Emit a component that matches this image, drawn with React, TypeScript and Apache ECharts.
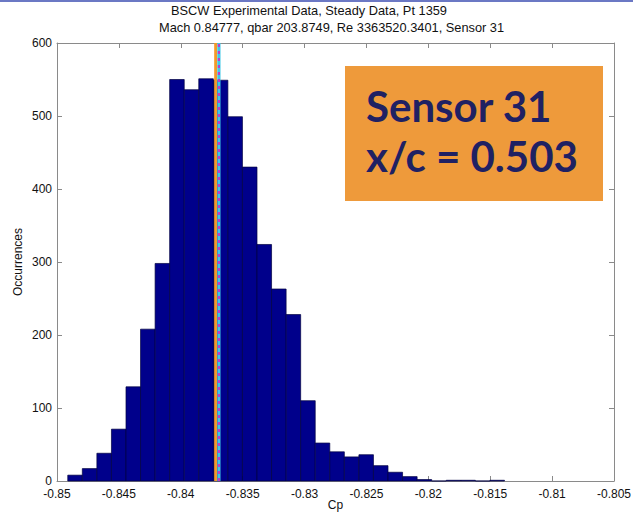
import React, { useEffect, useRef } from "react";
import * as echarts from "echarts";

const titleLines = [
  "BSCW Experimental Data, Steady Data, Pt 1359",
  "Mach 0.84777, qbar 203.8749, Re 3363520.3401, Sensor 31",
];
const xTicks = [-0.85, -0.845, -0.84, -0.835, -0.83, -0.825, -0.82, -0.815, -0.81, -0.805];
const yTicks = [0, 100, 200, 300, 400, 500, 600];
const binStart = -0.84913;
const binWidth = 0.001176;
const counts = [
  8, 17, 38, 71, 129, 208, 298, 550, 536, 551,
  549, 499, 430, 324, 263, 228, 110, 52, 40, 33,
  36, 21, 12, 6, 2, 0, 1, 1, 0, 1,
];
const meanLineX = -0.83718;
const sensorLineX = -0.83692;
const boxLines = ["Sensor 31", "x/c = 0.503"];

const fmt = (v: number) => String(parseFloat(Number(v).toFixed(3)));

export default function App() {
  const ref = useRef<HTMLDivElement>(null);
  useEffect(() => {
    if (!ref.current) return;
    const chart = echarts.init(ref.current, undefined, { renderer: "svg" });
    const axisColor = "#8a8a8a";
    const labelFont = { fontFamily: "Liberation Sans", fontSize: 12, color: "#111" };
    const xMin = xTicks[0];
    const xMax = xTicks[xTicks.length - 1];
    const yMin = yTicks[0];
    const yMax = yTicks[yTicks.length - 1];
    const baseX = {
      type: "value",
      min: xMin,
      max: xMax,
      interval: 0.005,
      splitLine: { show: false },
      axisLine: { onZero: false, lineStyle: { color: axisColor } },
      axisTick: { inside: true, length: 5, lineStyle: { color: axisColor } },
    };
    const baseY = {
      type: "value",
      min: yMin,
      max: yMax,
      interval: 100,
      splitLine: { show: false },
      axisLine: { show: true, onZero: false, lineStyle: { color: axisColor } },
      axisTick: { show: true, inside: true, length: 5, lineStyle: { color: axisColor } },
    };
    const data = counts.map((c, i) => [binStart + i * binWidth, binStart + (i + 1) * binWidth, c]);
    chart.setOption({
      animation: false,
      backgroundColor: "#ffffff",
      grid: { left: 57, right: 19, top: 43, bottom: 34, containLabel: false, outerBoundsMode: "none" },
      xAxis: [
        {
          ...baseX,
          position: "bottom",
          name: "Cp",
          nameLocation: "middle",
          nameGap: 18,
          nameMoveOverlap: false,
          nameTextStyle: { ...labelFont },
          axisLabel: { ...labelFont, margin: 7, formatter: (v: number) => fmt(v), showMinLabel: true, showMaxLabel: true },
        },
        { ...baseX, position: "top", axisLabel: { show: false } },
      ],
      yAxis: [
        {
          ...baseY,
          position: "left",
          name: "Occurrences",
          nameLocation: "middle",
          nameGap: 33,
          nameMoveOverlap: false,
          nameTextStyle: { ...labelFont },
          axisLabel: { ...labelFont, margin: 5 },
        },
        { ...baseY, position: "right", axisLabel: { show: false } },
      ],
      series: [
        {
          type: "custom",
          xAxisIndex: 0,
          yAxisIndex: 0,
          encode: { x: [0, 1], y: 2 },
          data,
          renderItem: (params: any, api: any) => {
            const p0 = api.coord([api.value(0), api.value(2)]);
            const p1 = api.coord([api.value(1), 0]);
            return {
              type: "rect",
              shape: { x: p0[0], y: p0[1], width: p1[0] - p0[0], height: p1[1] - p0[1] },
              style: { fill: "#00008b", stroke: "#000040", lineWidth: 0.7 },
            };
          },
        },
        {
          type: "line",
          xAxisIndex: 0,
          yAxisIndex: 0,
          data: [[meanLineX, yMin], [meanLineX, yMax]],
          symbol: "none",
          lineStyle: { color: "#f39a2a", width: 3 },
          clip: false,
        },
        {
          type: "line",
          xAxisIndex: 0,
          yAxisIndex: 0,
          data: [[sensorLineX, yMin], [sensorLineX, yMax]],
          symbol: "none",
          lineStyle: { color: "#3cc8e6", width: 3.2 },
          clip: false,
        },
        {
          type: "line",
          xAxisIndex: 0,
          yAxisIndex: 0,
          data: [[sensorLineX, yMin], [sensorLineX, yMax]],
          symbol: "none",
          lineStyle: { color: "#c03cc8", width: 2.2, type: [3, 4] },
          clip: false,
        },
      ],
      graphic: [
        { type: "rect", left: 0, top: 0, shape: { width: 633, height: 2 }, style: { fill: "#6b78c4" } },
        {
          type: "text",
          x: 171,
          y: 10,
          style: { text: titleLines[0], font: "12.8px 'Liberation Sans'", fill: "#111", align: "left", verticalAlign: "middle" },
        },
        {
          type: "text",
          x: 159,
          y: 27,
          style: { text: titleLines[1], font: "12.8px 'Liberation Sans'", fill: "#111", align: "left", verticalAlign: "middle" },
        },
        { type: "rect", x: 345, y: 66, shape: { width: 258, height: 135 }, style: { fill: "#ee9a3b" } },
        {
          type: "text",
          x: 366,
          y: 106,
          style: { text: boxLines[0], font: "bold 42px Lato", fill: "#1f2163", align: "left", verticalAlign: "middle" },
        },
        {
          type: "text",
          x: 366,
          y: 156,
          style: { text: boxLines[1], font: "bold 42px Lato", fill: "#1f2163", align: "left", verticalAlign: "middle" },
        },
      ],
    });
    return () => chart.dispose();
  }, []);
  return <div ref={ref} style={{ position: "fixed", left: 0, top: 0, width: 633, height: 515 }} />;
}
